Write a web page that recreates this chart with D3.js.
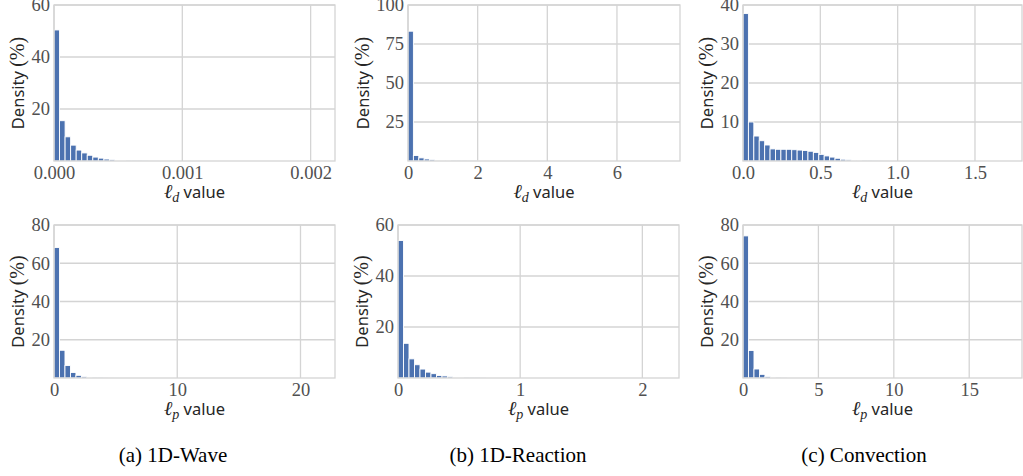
<!DOCTYPE html>
<html>
<head>
<meta charset="utf-8">
<script src="https://cdn.jsdelivr.net/npm/d3@7"></script>
<style>
  body { margin: 0; background: #fff; }
  svg { display: block; }
</style>
</head>
<body>
<svg id="chart" width="1023" height="476"></svg>
<script>
// histogram densities (%) per bin
var waveLd     = [50.4, 15.5, 9.3, 6.1, 4.2, 3.1, 2.2, 1.5, 1.1, 0.75, 0.5, 0.35, 0.22, 0.14, 0.09, 0.06, 0.04, 0.02, 0.01];
var reactionLd = [83.2, 3.5, 2.0, 1.3, 0.85, 0.6, 0.4, 0.3, 0.2, 0.15, 0.1, 0.07, 0.05, 0.03, 0.02];
var convLd     = [37.8, 10.0, 6.4, 5.2, 4.1, 3.1, 3.0, 3.0, 3.0, 2.9, 2.8, 2.7, 2.5, 2.2, 1.7, 1.3, 1.0, 0.7, 0.45, 0.3, 0.2, 0.13, 0.08, 0.05, 0.03, 0.02, 0.01];
var waveLp     = [68.2, 14.5, 6.5, 2.9, 1.4, 0.7, 0.3, 0.15, 0.08, 0.04, 0.02, 0.01];
var reactionLp = [53.9, 13.6, 7.5, 5.2, 3.5, 2.3, 1.7, 1.0, 0.8, 0.5, 0.35, 0.25, 0.15, 0.1, 0.06, 0.03];
var convLp     = [74.3, 14.4, 4.7, 1.9, 0.7, 0.25, 0.1, 0.05];

// bin widths and x limits
var binWidths = [0.0000432, 0.155, 0.035, 0.445, 0.045, 0.364];
var xMaxes    = [0.00219, 7.81, 1.804, 22.8, 2.30, 18.5];
var yMaxes    = [60, 100, 40, 80, 60, 80];

var xTicks = [[0, 0.001, 0.002], [0, 2, 4, 6], [0, 0.5, 1.0, 1.5], [0, 10, 20], [0, 1, 2], [0, 5, 10, 15]];
var xFormats = [".3f", "d", ".1f", "d", "d", "d"];
var yTicks = [[20, 40, 60], [25, 50, 75, 100], [10, 20, 30, 40], [20, 40, 60, 80], [20, 40, 60], [20, 40, 60, 80]];
var subs = ["d", "d", "d", "p", "p", "p"];
var captions = ["(a) 1D-Wave", "(b) 1D-Reaction", "(c) Convection"];

var series = [waveLd, reactionLd, convLd, waveLp, reactionLp, convLp];

// panel boxes [left, top, right, bottom]
var boxes = [
  [54, 5, 335, 161], [408, 5, 680, 161], [743, 5, 1022, 161],
  [54, 225, 335, 378], [398, 225, 679, 378], [743, 225, 1022, 378]
];
var captionX = [173, 518, 864];

var svg = d3.select("#chart");
var gridColor = "#d4d4d4";
var barColor = "#4c72b0";
var SERIF = "Liberation Serif";
var SANS = "Noto Sans";

series.forEach(function (vals, i) {
  var b = boxes[i];
  var x = d3.scaleLinear().domain([0, xMaxes[i]]).range([b[0], b[2]]);
  var y = d3.scaleLinear().domain([0, yMaxes[i]]).range([b[3], b[1]]);
  var g = svg.append("g");

  // grid
  g.selectAll(".vg").data(xTicks[i]).enter().append("line")
    .attr("x1", function (d) { return x(d); }).attr("x2", function (d) { return x(d); })
    .attr("y1", b[1]).attr("y2", b[3])
    .attr("stroke", gridColor).attr("stroke-width", 1.3);
  g.selectAll(".hg").data(yTicks[i]).enter().append("line")
    .attr("x1", b[0]).attr("x2", b[2])
    .attr("y1", function (d) { return y(d); }).attr("y2", function (d) { return y(d); })
    .attr("stroke", gridColor).attr("stroke-width", 1.3);

  // bars
  var w = binWidths[i];
  g.selectAll(".bar").data(vals).enter().append("rect")
    .attr("x", function (d, k) { return x(k * w); })
    .attr("width", function (d, k) { return x((k + 1) * w) - x(k * w); })
    .attr("y", function (d) { return y(d); })
    .attr("height", function (d) { return y(0) - y(d); })
    .attr("fill", barColor)
    .attr("stroke", "#fff").attr("stroke-width", 0.9);

  // frame
  g.append("rect")
    .attr("x", b[0]).attr("y", b[1])
    .attr("width", b[2] - b[0]).attr("height", b[3] - b[1])
    .attr("fill", "none").attr("stroke", gridColor).attr("stroke-width", 1.3);

  // x axis tick labels
  var xa = d3.axisBottom(x).tickValues(xTicks[i]).tickSize(0).tickPadding(5)
    .tickFormat(d3.format(xFormats[i]));
  var gx = g.append("g").attr("transform", "translate(0," + b[3] + ")").call(xa);
  gx.select(".domain").remove();
  gx.selectAll("text").style("font-family", SERIF).style("font-size", "18.5px").attr("fill", "#505050");

  // y axis tick labels
  var ya = d3.axisLeft(y).tickValues(yTicks[i]).tickSize(0).tickPadding(4);
  var gy = g.append("g").attr("transform", "translate(" + b[0] + ",0)").call(ya);
  gy.select(".domain").remove();
  gy.selectAll("text").style("font-family", SERIF).style("font-size", "18.5px").attr("fill", "#505050");

  // y label
  var digits = d3.max(yTicks[i], function (d) { return String(d).length; });
  var lx = b[0] - 4 - digits * 9 - 14;
  var ly = (b[1] + b[3]) / 2;
  var yl = g.append("text")
    .attr("transform", "translate(" + lx + "," + ly + ") rotate(-90)")
    .attr("text-anchor", "middle").attr("dy", "0.35em")
    .attr("fill", "#262626");
  yl.append("tspan").style("font-family", SANS).style("font-size", "16.5px").text("Density ");
  yl.append("tspan").style("font-family", SERIF).style("font-size", "20px").text("(%)");

  // x label
  var xl = g.append("text")
    .attr("x", (b[0] + b[2]) / 2).attr("y", b[3] + 37)
    .attr("text-anchor", "middle").attr("fill", "#262626");
  xl.append("tspan").style("font-family", SERIF).style("font-style", "italic").style("font-size", "20px").text("\u2113");
  xl.append("tspan").style("font-family", SERIF).style("font-style", "italic").style("font-size", "14px")
    .attr("dy", 4).text(subs[i]);
  xl.append("tspan").style("font-family", SANS).style("font-size", "16.5px").attr("dy", -4).text(" value");
});

svg.selectAll(".caption").data(captions).enter().append("text")
  .attr("x", function (d, i) { return captionX[i]; })
  .attr("y", 462)
  .attr("text-anchor", "middle")
  .style("font-family", SERIF).style("font-size", "21px").attr("fill", "#000")
  .text(function (d) { return d; });
</script>
</body>
</html>
